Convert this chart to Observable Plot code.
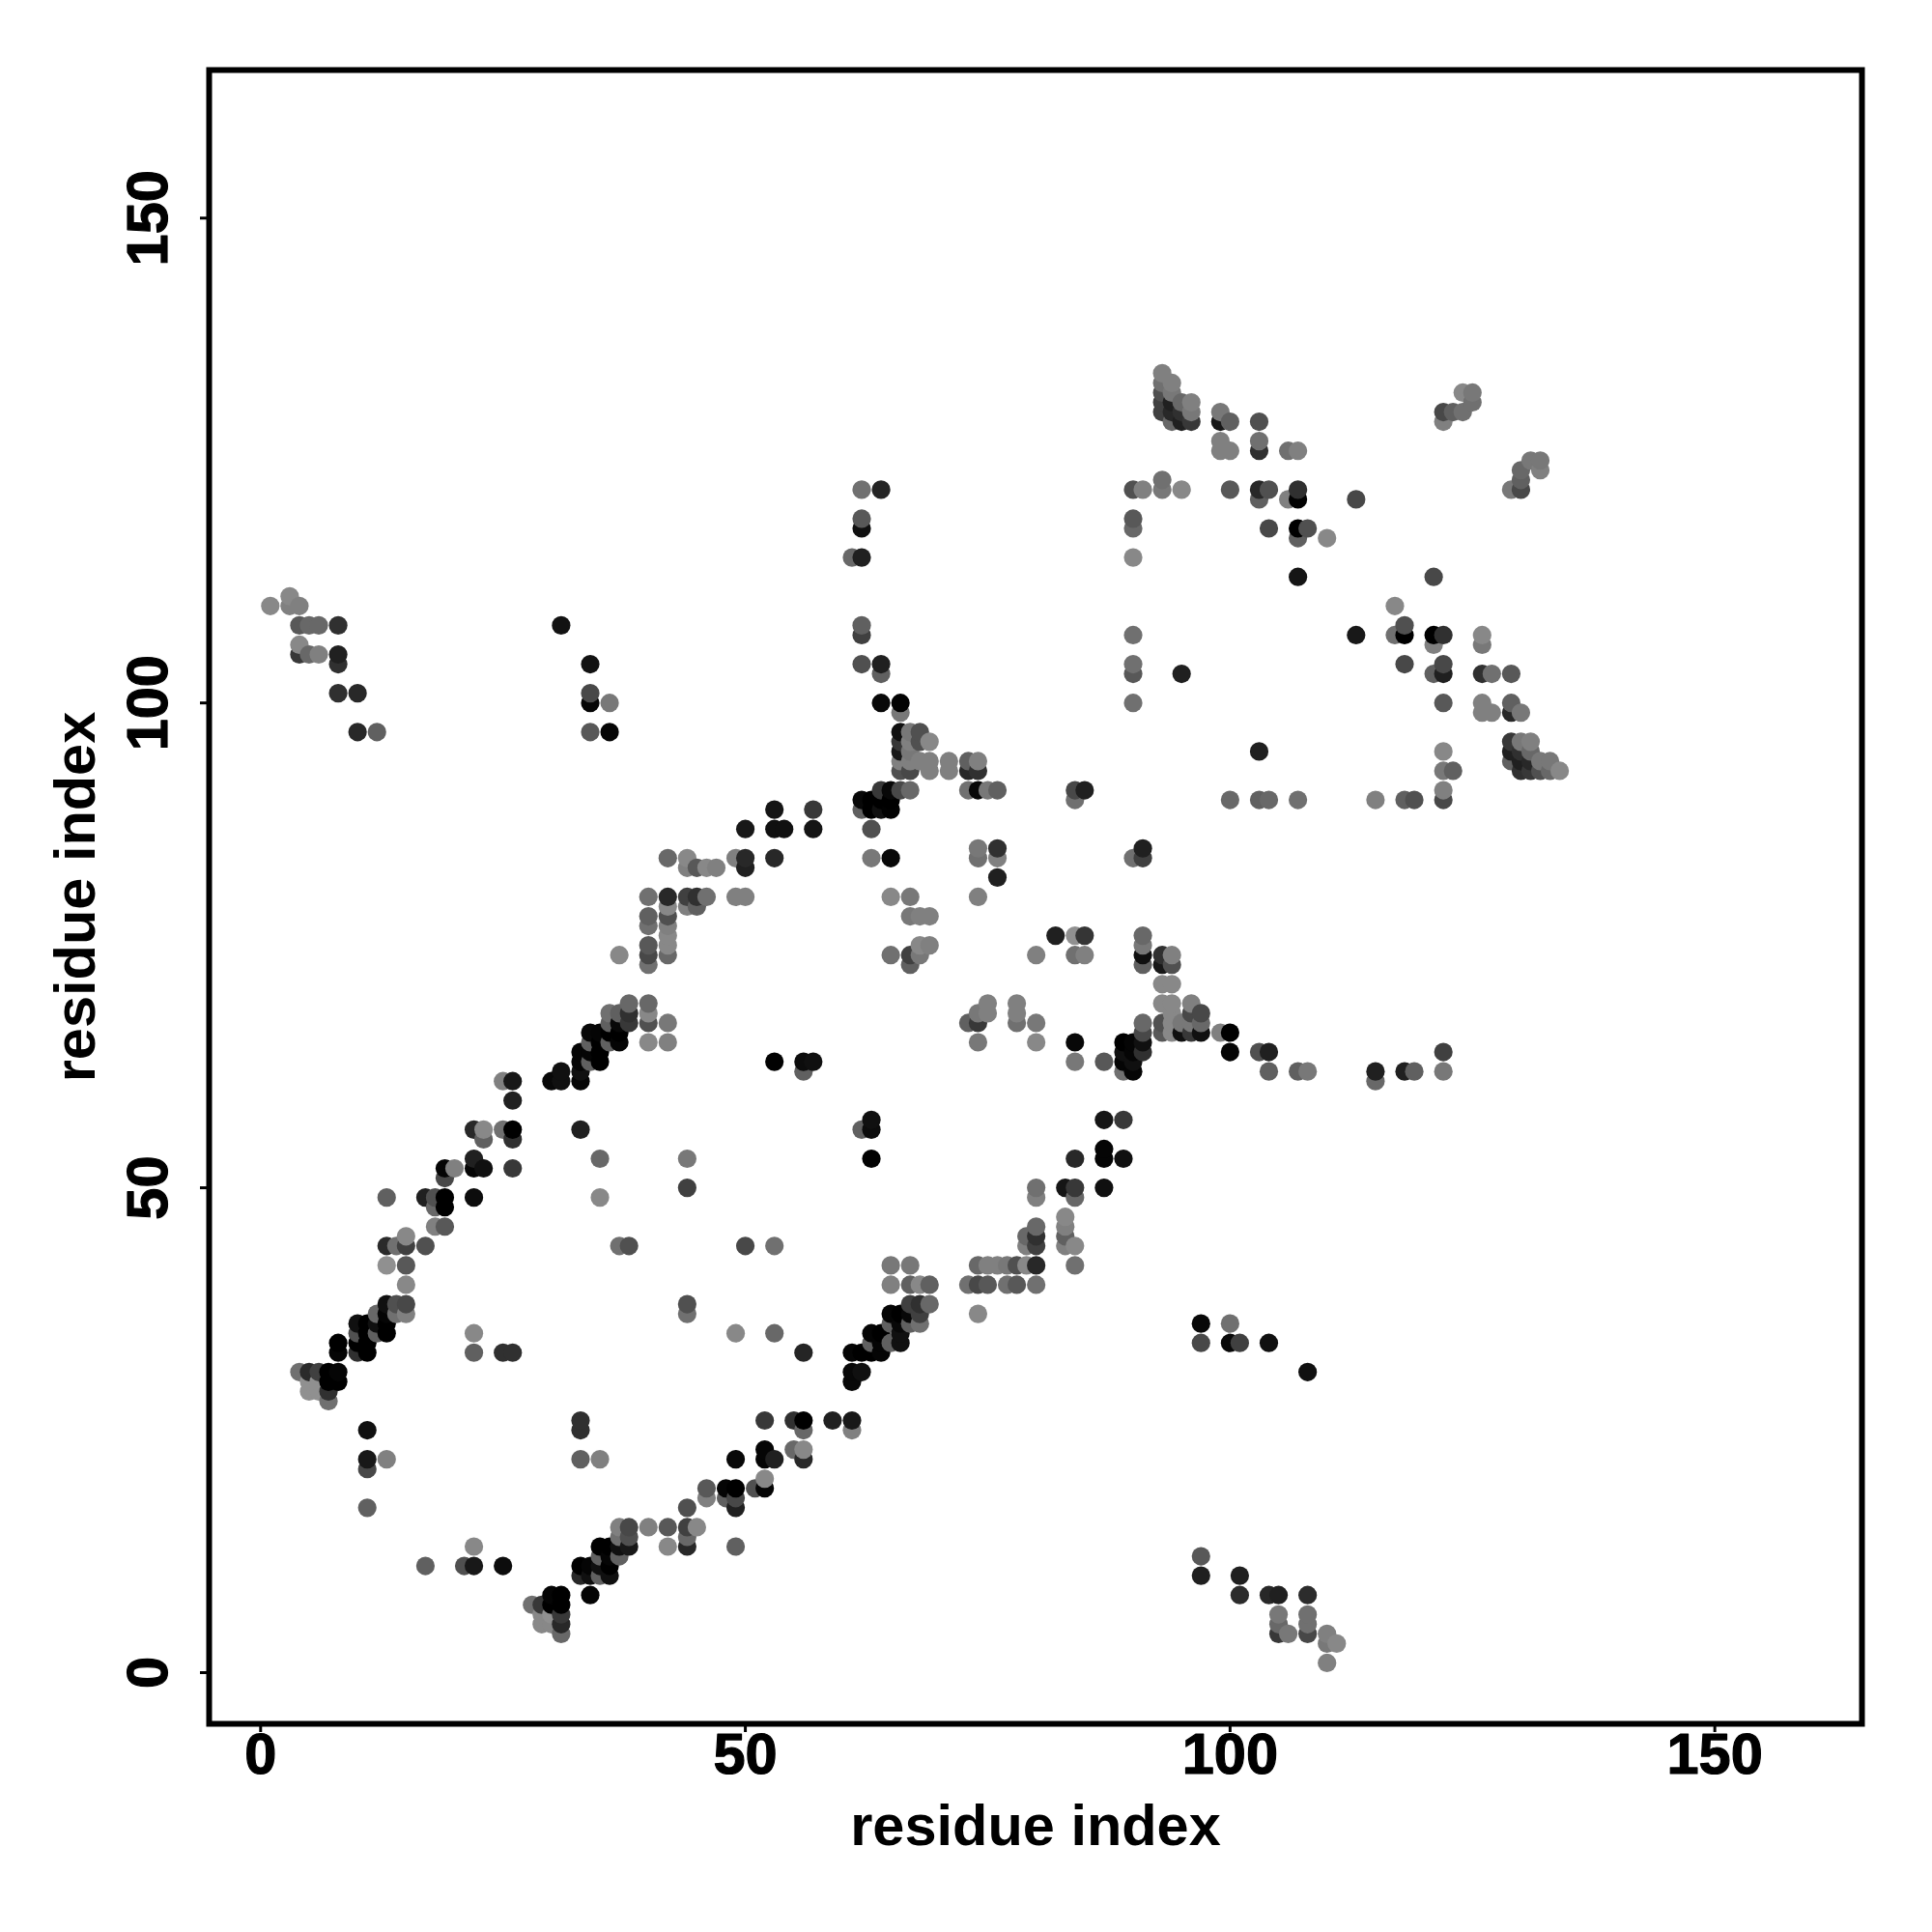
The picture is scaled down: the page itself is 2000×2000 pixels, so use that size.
<!DOCTYPE html>
<html>
<head>
<meta charset="utf-8">
<script src="https://cdn.jsdelivr.net/npm/d3@7"></script>
<script src="https://cdn.jsdelivr.net/npm/@observablehq/plot@0.6"></script>
<style>
html,body{margin:0;padding:0;background:#fff}
svg{display:block}
</style>
</head>
<body>
<div id="chart"></div>
<script>
const axisTicks = [0, 50, 100, 150];
const axisTitle = "residue index";
// Residue index on the x axis; the next two lists give, per column, the partner residues and grey levels.
const columns = [1,3,4,5,6,7,8,10,11,12,13,14,15,17,18,19,20,21,22,23,25,26,28,29,30,31,33,34,35,36,37,38,40,42,44,45,46,47,48,49,50,51,52,53,54,55,56,57,59,61,62,63,64,65,66,67,68,69,71,73,74,75,76,77,78,79,80,82,83,84,85,87,89,90,91,93,94,95,96,97,99,100,101,103,104,105,106,107,108,110,111,113,115,117,118,119,121,122,123,124,125,126,127,129,130,131,132,133,134];
const partners = [
[110],[110,111],[31,105,106,108,110],[29,30,31,105,108],[29,30,31,105,108],[28,29,30,31],[30,31,33,34,101,104,105,108],[33,34,35,36,97,101],
[17,21,22,25,33,34,35,36],[35,36,37,97],[22,35,36,37,38,42,44,49],[37,38,44],[37,38,40,42,44,45],[11,44,49],[46,48,49],[46,48,49,51,52],[52],[11],
[11,13,33,35,49,52,53,56],[52,55,56],[11,33,56,61],[33,52,55,56,59,61],[7],[5,6,7],[5,6,7,8,61],[4,5,6,7,8,61,62,108],
[10,11,22,25,26,56,61,62,63,64],[8,10,11,63,64,65,66,97,100,101,104],[10,11,12,13,22,49,53,63,64,65,66],[10,11,12,13,65,66,67,68,97,100],
[12,13,14,15,44,65,66,67,68,74],[13,14,15,44,67,68,69],[15,65,67,68,69,73,74,75,77,78,80],[13,15,65,67,74,75,76,77,78,79,80,84],
[13,14,15,17,37,38,50,53,79,80,83,84],[15,79,80,83],[18,19,80,83],[83],[18,19],[13,17,18,19,22,35,80,84],[44,80,83,84,87],[19],[19,20,22,23,26],
[22,35,44,63,84,87,89],[87],[23,26],[22,23,25,26,33,62,63],[63,87,89],[26],[25,26,30,31,33,115],[31,33,56,89,90,104,107,108,115,118,119,122],
[33,34,35,53,56,57,84,87,89,90],[33,34,35,89,90,91,100,103,104,122],[34,36,37,40,42,74,80,84,89,90,91],[34,35,36,37,91,93,94,95,96,97,99,100],
[36,37,38,40,42,73,74,78,80,91,93,94,95,96,97],[36,37,38,40,74,75,78,94,96,97],[38,40,75,78,93,94,96],[93,94],[40,67,91,93,94],
[37,40,42,65,67,68,80,84,85,91,93,94],[40,42,68,69,91],[42,82,84,85,91],[40,42],[40,42,67,68,69],[42,44,45],[40,42,44,45,46,49,50,65,67,74],[76],
[44,45,46,47,50],[42,44,49,50,53,63,65,74,76,90,91],[74,76,91],[50,53,54,57,63],[53,57,62,63,64,65],[62,63,64,65,84,100,103,104,107,115,118,119,122],
[64,65,66,67,73,74,75,76,84,85,122],[66,67,69,71,73,74,122,123,130,131,132,133,134],[66,67,68,69,71,73,74,129,130,131,132,133],[66,67,103,122,129,130,131],
[66,67,68,69,129,130,131],[10,12,34,36,66,67,68],[66,126,127,129,130],[34,36,64,66,90,122,126,129],[8,10,34],[64,90,95,121,122,126,127,129],[8,34,62,64,90,118,122],
[4,5,6,8],[4,121,126],[62,90,113,117,118,121,122,126],[4,5,6,8,31,62,118],[1,3,4,117],[3],[107,121],[61,62,90],[107,110],[62,90,104,107,108],[62,90],[103,106,107,113],
[62,64,90,91,93,95,100,103,104,107,129,130],[93,130],[130,132],[131,132],[99,100,103,106,107],[99,103],[94,95,96,99,100,103,122],[93,94,95,96,99,122,123,124],[93,94,95,96,125],[93,94,124,125],[93,94],[93]
];
const greys = [
[0x88],[0x80,0x88],[0x70,0x38,0x88,0x58,0x80],[0x90,0x90,0x2a,0x68,0x68],[0x90,0x90,0x40,0x80,0x68],[0x70,0x30,0x00,0x00],[0x00,0x05,0x05,0x00,0x30,0x30,0x20,0x30],[0x30,0x00,0x50,0x10,0x28,0x28],
[0x60,0x48,0x18,0x10,0x00,0x00,0x00,0x00],[0x60,0x10,0x68,0x60],[0x80,0x00,0x00,0x05,0x10,0x90,0x2a,0x60],[0x70,0x50,0x70],[0x80,0x48,0x88,0x58,0x40,0x88],[0x60,0x50,0x20],[0x80,0x68,0x50],[0x58,0x00,0x00,0x48,0x05],[0x80],[0x50],
[0x18,0x88,0x60,0x88,0x0c,0x05,0x20,0x28],[0x10,0x60,0x88],[0x0c,0x30,0x70,0x80],[0x30,0x38,0x30,0x00,0x20,0x18],[0x70],[0x88,0x88,0x38],[0x88,0x90,0x00,0x05,0x08],[0x68,0x28,0x38,0x00,0x00,0x10,0x10,0x12],
[0x28,0x00,0x60,0x30,0x30,0x20,0x05,0x10,0x05,0x05],[0x05,0x10,0x05,0x60,0x05,0x60,0x08,0x58,0x05,0x48,0x12],[0x60,0x10,0x60,0x00,0x80,0x88,0x68,0x00,0x00,0x00,0x05],[0x10,0x00,0x05,0x00,0x60,0x00,0x60,0x70,0x05,0x78],
[0x60,0x10,0x70,0x80,0x70,0x05,0x00,0x08,0x60,0x88],[0x18,0x50,0x48,0x50,0x38,0x30,0x68],[0x80,0x88,0x50,0x88,0x68,0x70,0x48,0x58,0x70,0x60,0x70],[0x88,0x58,0x80,0x78,0x68,0x88,0x88,0x80,0x50,0x88,0x28,0x68],
[0x28,0x68,0x40,0x50,0x70,0x50,0x40,0x78,0x80,0x40,0x80,0x88],[0x88,0x60,0x30,0x58],[0x80,0x58,0x70,0x88],[0x80],[0x60,0x05],[0x60,0x20,0x48,0x00,0x08,0x88,0x80,0x80],[0x48,0x80,0x20,0x28,0x18],[0x50],[0x05,0x88,0x05,0x05,0x38],
[0x20,0x68,0x70,0x02,0x28,0x10,0x15],[0x10],[0x68,0x30],[0x28,0x88,0x68,0x00,0x25,0x60,0x0c],[0x10,0x14,0x38],[0x20],[0x80,0x18,0x08,0x08,0x05,0x68],[0x10,0x00,0x60,0x60,0x08,0x50,0x40,0x60,0x20,0x10,0x58,0x70],
[0x00,0x60,0x05,0x02,0x0c,0x10,0x78,0x50,0x00,0x00],[0x05,0x05,0x00,0x10,0x00,0x38,0x08,0x60,0x20,0x25],[0x60,0x60,0x05,0x80,0x78,0x70,0x88,0x08,0x02,0x00,0x08],[0x10,0x10,0x08,0x00,0x48,0x50,0x80,0x18,0x38,0x10,0x78,0x02],
[0x60,0x08,0x40,0x60,0x78,0x60,0x40,0x78,0x78,0x68,0x48,0x80,0x78,0x80,0x78],[0x70,0x40,0x30,0x88,0x78,0x88,0x80,0x80,0x50,0x50],[0x68,0x60,0x80,0x80,0x80,0x80,0x88],[0x80,0x80],[0x70,0x60,0x70,0x28,0x60],
[0x88,0x48,0x68,0x78,0x38,0x78,0x80,0x70,0x78,0x08,0x30,0x80],[0x58,0x80,0x80,0x80,0x78],[0x80,0x20,0x80,0x30,0x60],[0x70,0x78],[0x58,0x50,0x70,0x80,0x80],[0x88,0x80,0x68],[0x70,0x28,0x40,0x30,0x68,0x80,0x70,0x88,0x78,0x80],[0x20],
[0x80,0x60,0x80,0x88,0x15],[0x70,0x88,0x68,0x38,0x28,0x78,0x08,0x70,0x90,0x70,0x48],[0x80,0x35,0x20],[0x10,0x05,0x05,0x15,0x58],[0x10,0x38,0x70,0x05,0x10,0x00],[0x05,0x10,0x05,0x05,0x70,0x70,0x58,0x70,0x70,0x88,0x68,0x58,0x50],
[0x30,0x10,0x48,0x68,0x60,0x10,0x78,0x68,0x40,0x20,0x80],[0x58,0x50,0x88,0x88,0x18,0x30,0x78,0x70,0x40,0x40,0x50,0x70,0x80],[0x88,0x88,0x88,0x88,0x88,0x50,0x80,0x68,0x28,0x20,0x78,0x80],[0x10,0x78,0x20,0x88,0x20,0x30,0x68],
[0x38,0x78,0x48,0x80,0x38,0x78,0x80],[0x20,0x58,0x48,0x08,0x10,0x68,0x48],[0x80,0x80,0x80,0x18,0x78],[0x08,0x70,0x05,0x00,0x68,0x58,0x80,0x60],[0x2c,0x20,0x40],[0x50,0x60,0x20,0x60,0x28,0x30,0x70,0x50],[0x28,0x10,0x60,0x20,0x68,0x48,0x50],
[0x38,0x68,0x78,0x20],[0x78,0x80,0x70],[0x60,0x70,0x15,0x60,0x00,0x02,0x30,0x80],[0x48,0x70,0x70,0x2c,0x10,0x78,0x50],[0x80,0x78,0x80,0x88],[0x88],[0x18,0x48],[0x68,0x20,0x80],[0x70,0x88],[0x20,0x60,0x48,0x00,0x50],[0x60,0x50],[0x60,0x80,0x00,0x48],
[0x78,0x40,0x48,0x80,0x78,0x88,0x58,0x20,0x48,0x30,0x80,0x48],[0x60,0x60],[0x70,0x88],[0x70,0x78],[0x80,0x80,0x30,0x78,0x88],[0x80,0x70],[0x60,0x20,0x38,0x28,0x60,0x58,0x78],[0x30,0x20,0x30,0x78,0x78,0x48,0x60,0x68],[0x38,0x28,0x68,0x80,0x78],[0x50,0x78,0x80,0x78],[0x68,0x78],[0x88]
];

const contacts = columns.flatMap((x, i) => partners[i].map((y, j) => ({x, y, level: greys[i][j]})));
const ordered = d3.sort(contacts, d => d.x, d => d.y);

const plot = Plot.plot({
  width: 2000,
  height: 2000,
  marginLeft: 216,
  marginRight: 73,
  marginTop: 72,
  marginBottom: 216,
  style: {fontFamily: "'Liberation Sans', Arial, sans-serif", background: "white"},
  x: {domain: [-5.31, 165.18]},
  y: {domain: [-5.28, 165.27]},
  color: {type: "linear", domain: [0, 255], range: ["#000000", "#ffffff"], interpolate: "rgb"},
  marks: [
    Plot.dot(ordered, {x: "x", y: "y", r: 9.6, fill: "level", stroke: "none"}),
    Plot.axisX({ticks: axisTicks, tickSize: 9, strokeWidth: 3, tickPadding: 0, fontSize: 59.5, fontWeight: "bold", textStroke: "black", textStrokeWidth: 1.2, label: axisTitle, labelAnchor: "center", labelArrow: "none", labelOffset: 125}),
    Plot.axisY({ticks: axisTicks, tickSize: 9, strokeWidth: 3, tickPadding: 35, tickRotate: -90, fontSize: 59.5, fontWeight: "bold", textStroke: "black", textStrokeWidth: 1.2, label: axisTitle, labelAnchor: "center", labelArrow: "none", labelOffset: 161}),
    Plot.frame({stroke: "black", strokeWidth: 6})
  ]
});
document.getElementById("chart").appendChild(plot);
</script>
</body>
</html>
